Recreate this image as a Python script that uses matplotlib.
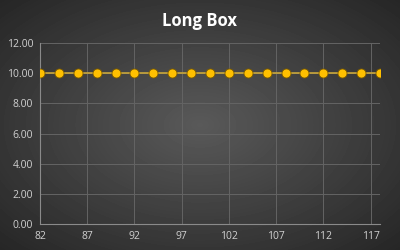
import numpy as np
import matplotlib.pyplot as plt

# dados
x_vals = [82, 84, 86, 88, 90, 92, 94, 96, 98, 100, 102, 104, 106, 108, 110, 112, 114, 116, 118]
y_vals = [10.0] * len(x_vals)
x_ticks = [82, 87, 92, 97, 102, 107, 112, 117]
y_ticks = [0, 2, 4, 6, 8, 10, 12]

fig = plt.figure(figsize=(4, 2.5), dpi=100)

# fundo com gradiente radial
bg = fig.add_axes([0, 0, 1, 1])
yy, xx = np.mgrid[-1:1:250j, -1:1:400j]
r = np.sqrt(xx**2 + yy**2) / np.sqrt(2)
bg.imshow(0.35 - 0.20 * r, cmap='gray', vmin=0, vmax=1, aspect='auto', extent=[0, 1, 0, 1])
bg.axis('off')

ax = fig.add_axes([0.1, 0.104, 0.85, 0.724])
ax.patch.set_alpha(0)
ax.plot(x_vals, y_vals, color='#c9a63a', lw=1.2, marker='o', markersize=6.5,
        markerfacecolor='#ffc000', markeredgecolor='#7a5a00', markeredgewidth=0.6, zorder=3)

ax.set_xlim(82, 118)
ax.set_ylim(0, 12)
ax.set_xticks(x_ticks)
ax.set_yticks(y_ticks)
ax.set_yticklabels([f"{v:.2f}" for v in y_ticks])
ax.grid(True, color='#646464', lw=0.7)
ax.set_axisbelow(True)
for s in ['top', 'right']:
    ax.spines[s].set_visible(False)
ax.spines['left'].set_color('#8a8a8a')
ax.spines['bottom'].set_color('#8a8a8a')
ax.tick_params(length=0, colors='#d0d0d0', labelsize=7.5, pad=5)
for lab in ax.get_xticklabels() + ax.get_yticklabels():
    lab.set_family('Open Sans')

fig.text(0.5, 0.915, "Long Box", ha='center', va='center', color='white',
         fontsize=12, fontweight='bold', family='Open Sans')

plt.savefig('out.png', dpi=100)
